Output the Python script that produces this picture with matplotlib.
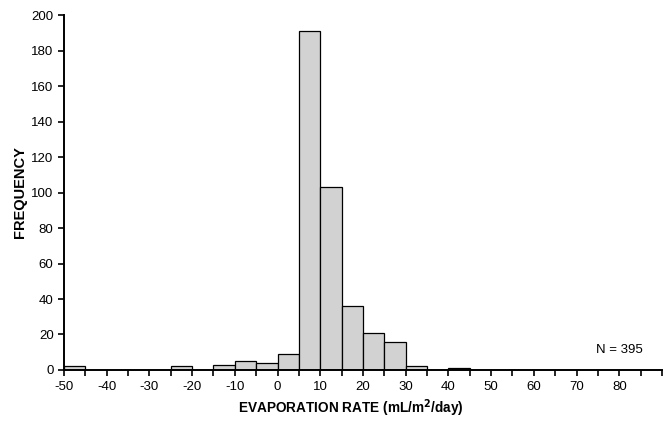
import matplotlib
matplotlib.use("Agg")
import matplotlib.pyplot as plt
import numpy as np

plt.rcParams['font.family'] = ['Liberation Sans', 'DejaVu Sans']

bin_left = [-50, -45, -40, -35, -30, -25, -20, -15, -10, -5, 0, 5, 10, 15, 20, 25, 30, 35, 40]
counts   = [2, 0, 0, 0, 0, 2, 0, 3, 5, 4, 9, 191, 103, 36, 21, 16, 2, 0, 1]
bin_width = 5
x_tick_labels = [-50, -40, -30, -20, -10, 0, 10, 20, 30, 40, 50, 60, 70, 80]
y_ticks = [0, 20, 40, 60, 80, 100, 120, 140, 160, 180, 200]

fig = plt.figure(figsize=(6.68, 4.23), dpi=100)
ax = fig.add_axes([0.0958, 0.1253, 0.8952, 0.8392])

ax.bar(bin_left, counts, width=bin_width, align='edge',
       facecolor='#d2d2d2', edgecolor='black', linewidth=0.9)

ax.set_xlim(-50, 90)
ax.set_ylim(0, 200)
ax.set_xticks(np.arange(-50, 91, 5))
ax.set_xticklabels([str(int(v)) if int(v) in x_tick_labels else '' for v in np.arange(-50, 91, 5)])
ax.set_yticks(y_ticks)
ax.tick_params(axis='both', direction='out', length=4, width=1.2, labelsize=9.5, colors='black')
ax.tick_params(axis='x', pad=4)
for s in ['top', 'right']:
    ax.spines[s].set_visible(False)
for s in ['left', 'bottom']:
    ax.spines[s].set_linewidth(1.4)

ax.set_ylabel('FREQUENCY', fontsize=10.5, fontweight='bold', labelpad=3)
ax.set_xlabel('EVAPORATION RATE (mL/m$^\\mathbf{2}$/day)', fontsize=9.8, fontweight='bold')
ax.xaxis.set_label_coords(0.48, -0.107)
ax.xaxis.label.set_va('center')

ax.text(80, 11, 'N = 395', fontsize=9.5, ha='center', va='center')

fig.savefig('out.png', dpi=100)
